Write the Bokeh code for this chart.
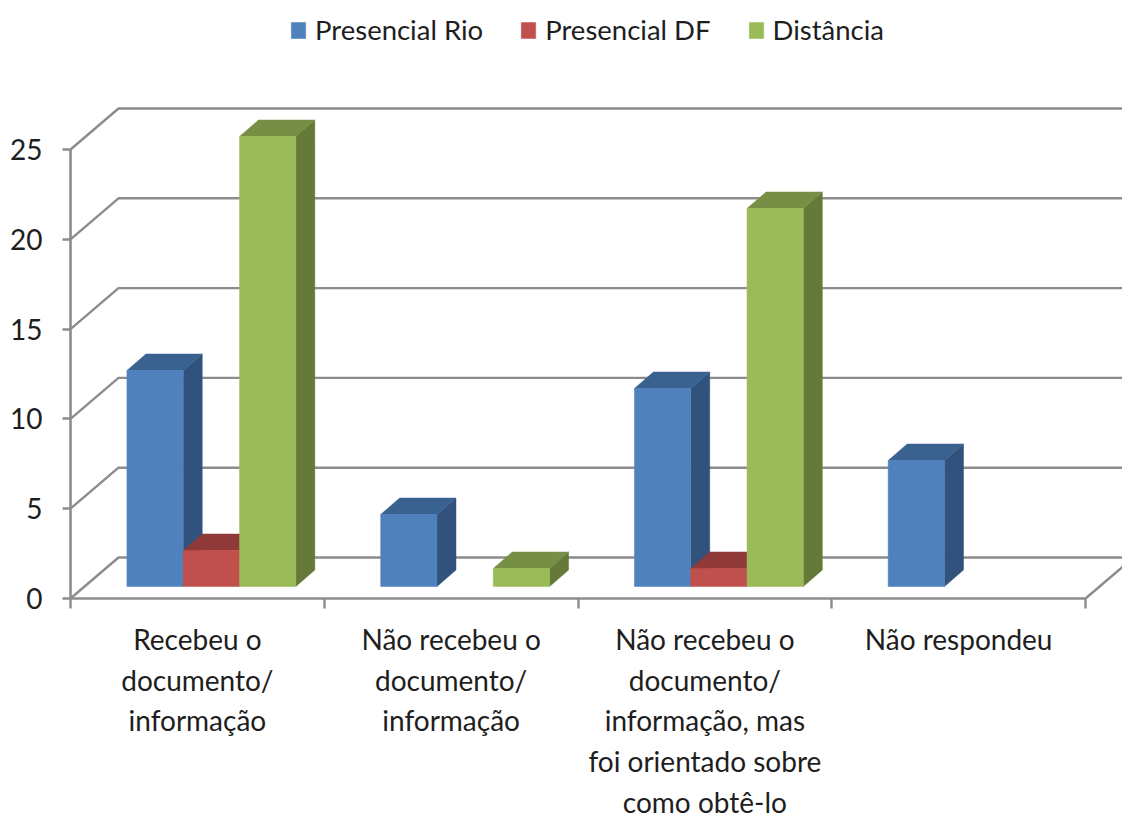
from bokeh.plotting import figure
from bokeh.embed import file_html
from bokeh.resources import INLINE
from bokeh.models import (FixedTicker, Legend, LegendItem, Range1d)
from bokeh.core.properties import value

# ---- data ----
category_lines = [
    ["Recebeu o", "documento/", "informação"],
    ["Não recebeu o", "documento/", "informação"],
    ["Não recebeu o", "documento/", "informação, mas", "foi orientado sobre", "como obtê-lo"],
    ["Não respondeu"],
]
series_names = ["Presencial Rio", "Presencial DF", "Distância"]
presencial_rio = [12, 4, 11, 7]
presencial_df = [2, 0, 1, 0]
distancia = [25, 1, 21, 0]
y_ticks = [0, 5, 10, 15, 20, 25]

front_colors = ["#4F81BD", "#C0504D", "#9BBB59"]
top_colors = ["#3A6291", "#8F3A38", "#778F45"]
side_colors = ["#30527C", "#7C3230", "#657A38"]

# ---- layout (pixels per data unit) ----
W, H = 1122, 820
PX_X, PX_Y = 253.75, 17.96
AX_LEFT, AX_ZERO = 70, 598          # axis origin inside the figure
F = "Lato"
TXT = "#1e1e1e"
GRID = "#8c8c8c"

p = figure(width=W, height=H, output_backend="svg", toolbar_location=None,
           x_range=Range1d(-AX_LEFT / PX_X, (W - AX_LEFT) / PX_X),
           y_range=Range1d(-(H - AX_ZERO) / PX_Y, AX_ZERO / PX_Y),
           min_border=0, outline_line_color=None, background_fill_color="white")
p.grid.visible = False

# 3-D wall and floor lines
wall_dx, wall_dy = 48 / PX_X, 41 / PX_Y
n = len(category_lines)
xs = [[0, wall_dx, n + wall_dx] for _ in y_ticks] + [[n, n + wall_dx]]
ys = [[v, v + wall_dy, v + wall_dy] for v in y_ticks] + [[0, wall_dy]]
p.multi_line(xs, ys, line_color=GRID, line_width=2.4)

# Axes
p.yaxis.fixed_location = 0
p.yaxis.bounds = (0, 25)
p.yaxis.ticker = FixedTicker(ticks=y_ticks)
p.xaxis.fixed_location = 0
p.xaxis.bounds = (0, n)
p.xaxis.ticker = FixedTicker(ticks=list(range(n + 1)))
p.xaxis.major_label_overrides = {i: "" for i in range(n + 1)}
for ax in (p.xaxis[0], p.yaxis[0]):
    ax.axis_line_color = GRID
    ax.axis_line_width = 2.6
    ax.major_tick_line_color = GRID
    ax.major_tick_line_width = 2.4
    ax.major_tick_in = 0
    ax.minor_tick_line_color = None
p.xaxis.major_tick_out = 10
p.yaxis.major_tick_out = 8
p.yaxis.major_label_standoff = 20
p.yaxis.major_label_text_font = F
p.yaxis.major_label_text_font_size = "28px"
p.yaxis.major_label_text_color = TXT

# 3-D bars
bar_w = 56.3 / PX_X
base_dx, base_dy = 14 / PX_X, 12 / PX_Y
depth_x, depth_y = 19 / PX_X, 16.5 / PX_Y
legend_items = []
for s, vals in enumerate([presencial_rio, presencial_df, distancia]):
    left, right, bottom, top = [], [], [], []
    side_x, side_y, top_x, top_y = [], [], [], []
    for c, v in enumerate(vals):
        if v == 0:
            continue
        x0 = c + 0.5 + base_dx + (s - 1.5) * bar_w
        x1 = x0 + bar_w
        y0 = base_dy
        y1 = y0 + v * 18 / PX_Y
        left.append(x0); right.append(x1); bottom.append(y0); top.append(y1)
        side_x.append([x1, x1 + depth_x, x1 + depth_x, x1])
        side_y.append([y0, y0 + depth_y, y1 + depth_y, y1])
        top_x.append([x0, x0 + depth_x, x1 + depth_x, x1])
        top_y.append([y1, y1 + depth_y, y1 + depth_y, y1])
    p.patches(side_x, side_y, fill_color=side_colors[s], line_color=side_colors[s], line_width=0.5)
    p.patches(top_x, top_y, fill_color=top_colors[s], line_color=top_colors[s], line_width=0.5)
    r = p.quad(left=left, right=right, bottom=bottom, top=top,
               fill_color=front_colors[s], line_color=front_colors[s], line_width=0.5)
    legend_items.append(LegendItem(label=series_names[s], renderers=[r]))

# Category labels, one row per text line
lx, ly, lt = [], [], []
for c, lines in enumerate(category_lines):
    for i, line in enumerate(lines):
        lx.append(c + 0.5)
        ly.append(-(40.5 + 40.7 * i) / PX_Y)
        lt.append(line)
p.text(x=lx, y=ly, text=lt, text_align="center", text_baseline="middle",
       text_font=value(F), text_font_size="28px", text_color=TXT)

legend = Legend(items=legend_items, orientation="horizontal", location=(289, 774),
                glyph_width=18, glyph_height=20, label_standoff=8, spacing=36, padding=0,
                margin=0, border_line_color=None, background_fill_alpha=0,
                label_text_font=F, label_text_font_size="27.5px", label_text_color=TXT)
p.add_layout(legend, "center")

open("out.html", "w").write(file_html(p, INLINE))
